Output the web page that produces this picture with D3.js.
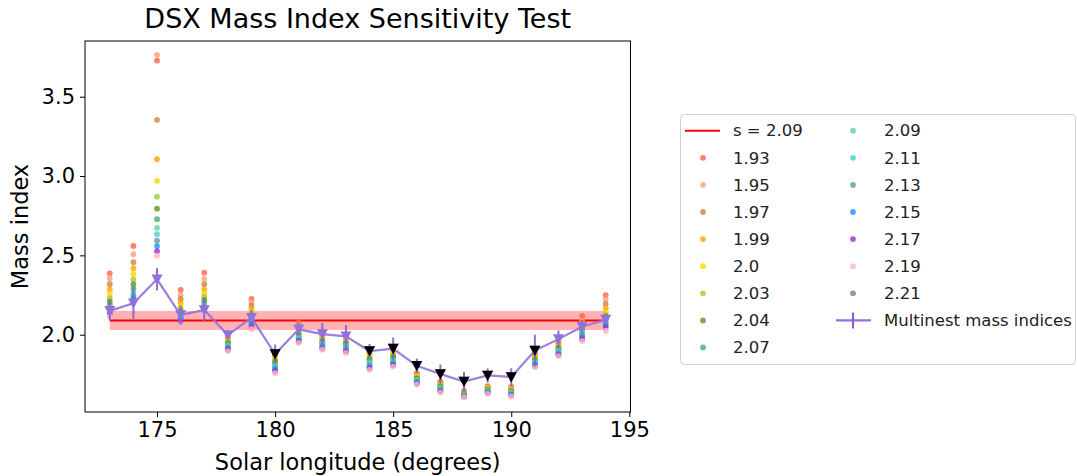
<!DOCTYPE html>
<html><head><meta charset="utf-8">
<script src="https://cdn.jsdelivr.net/npm/d3@7"></script>
<style>body{margin:0;background:#fff;}svg{display:block;font-family:"DejaVu Sans",sans-serif;}</style>
</head><body><svg id="chart" width="1077" height="476"></svg>
<script>
const longitudes = [173,174,175,176,177,178,179,180,181,182,183,184,185,186,187,188,189,190,191,192,193,194];
const sLabels = ["1.93","1.95","1.97","1.99","2.0","2.03","2.04","2.07","2.09","2.11","2.13","2.15","2.17","2.19","2.21"];
const sColors = ["#FF6347","#FFA07A","#CD853F","#FFA500","#FFD700","#9ACD32","#6B8E23","#3CB371","#66CDAA","#48D1CC","#5F9EA0","#1E90FF","#9932CC","#FFB6C1","#708090"];
const s193 = [2.387,2.559,3.728,2.282,2.391,1.985,2.225,1.89,2.078,2.01,2.0,1.905,1.92,1.757,1.705,1.645,1.675,1.672,1.88,1.955,2.118,2.25];
const s195 = [2.353,2.507,3.764,2.250,2.351,1.978,2.204,1.88,2.06,2.0,1.99,1.895,1.91,1.751,1.70,1.642,1.671,1.667,1.873,1.948,2.085,2.223];
const s197 = [2.318,2.457,3.354,2.225,2.318,1.972,2.183,1.87,2.045,1.995,1.98,1.885,1.90,1.746,1.695,1.639,1.668,1.663,1.867,1.941,2.075,2.194];
const s199 = [2.286,2.419,3.106,2.202,2.286,1.966,2.162,1.86,2.03,1.99,1.975,1.875,1.89,1.74,1.69,1.636,1.664,1.658,1.86,1.934,2.065,2.166];
const s200 = [2.257,2.383,2.969,2.181,2.261,1.96,2.145,1.85,2.02,1.98,1.965,1.865,1.88,1.735,1.684,1.633,1.66,1.653,1.854,1.927,2.055,2.141];
const s203 = [2.229,2.349,2.870,2.164,2.240,1.953,2.130,1.84,2.01,1.97,1.955,1.855,1.87,1.729,1.679,1.63,1.657,1.649,1.847,1.92,2.045,2.125];
const s204 = [2.208,2.318,2.794,2.149,2.219,1.946,2.118,1.83,2.0,1.96,1.945,1.845,1.86,1.724,1.673,1.627,1.653,1.644,1.841,1.913,2.035,2.115];
const s207 = [2.187,2.290,2.728,2.14,2.202,1.94,2.108,1.82,1.99,1.95,1.935,1.835,1.85,1.718,1.668,1.624,1.65,1.64,1.834,1.906,2.025,2.105];
const s209 = [2.175,2.271,2.673,2.13,2.187,1.933,2.10,1.81,1.985,1.945,1.93,1.825,1.84,1.713,1.663,1.621,1.646,1.635,1.828,1.899,2.015,2.095];
const s211 = [2.165,2.255,2.633,2.12,2.18,1.927,2.09,1.80,1.978,1.94,1.92,1.815,1.83,1.707,1.657,1.618,1.642,1.63,1.821,1.892,2.005,2.085];
const s213 = [2.155,2.24,2.593,2.11,2.17,1.92,2.08,1.79,1.97,1.93,1.91,1.805,1.822,1.702,1.652,1.615,1.639,1.626,1.815,1.885,1.995,2.07];
const s215 = [2.145,2.225,2.559,2.10,2.16,1.913,2.07,1.78,1.963,1.92,1.90,1.797,1.815,1.697,1.647,1.612,1.635,1.621,1.808,1.878,1.985,2.06];
const s217 = [2.13,2.21,2.526,2.08,2.15,1.905,2.05,1.77,1.956,1.912,1.893,1.788,1.807,1.691,1.642,1.61,1.632,1.617,1.802,1.871,1.972,2.045];
const s219 = [2.115,2.20,2.498,2.065,2.14,1.897,2.035,1.758,1.948,1.905,1.885,1.778,1.799,1.686,1.637,1.607,1.628,1.612,1.795,1.865,1.96,2.025];
const s221 = [null,null,null,null,null,null,null,null,null,null,null,null,null,null,null,null,null,null,null,null,null,null];
const multinest = [2.15,2.198,2.349,2.124,2.156,1.998,2.107,1.878,2.034,2.004,1.99,1.897,1.912,1.804,1.752,1.705,1.743,1.733,1.90,1.972,2.05,2.095];
const multinestErr = [0.06,0.1,0.07,0.06,0.07,0.03,0.05,0.06,0.04,0.07,0.07,0.045,0.07,0.045,0.06,0.06,0.045,0.055,0.1,0.055,0.04,0.035];
const flagged = [180,184,185,186,187,188,189,190,191];
const refS = 2.09;
const refBand = [2.03, 2.15];
const xTicks = [175,180,185,190,195];
const yTicks = [2.0,2.5,3.0,3.5];

const series = [s193,s195,s197,s199,s200,s203,s204,s207,s209,s211,s213,s215,s217,s219,s221];

const svg = d3.select("#chart");
const L = 85, R = 630.5, T = 41, B = 412;
const x = d3.scaleLinear().domain([171.95,195.05]).range([L,R]);
const y = d3.scaleLinear().domain([1.5128,3.851]).range([B,T]);

// band and reference line
const x0 = d3.min(longitudes), x1 = d3.max(longitudes);
svg.append("rect").attr("x",x(x0)).attr("width",x(x1)-x(x0))
  .attr("y",y(refBand[1])).attr("height",y(refBand[0])-y(refBand[1]))
  .attr("fill","#ff0000").attr("fill-opacity",0.3);
svg.append("line").attr("x1",x(x0)).attr("x2",x(x1)).attr("y1",y(refS)).attr("y2",y(refS))
  .attr("stroke","#ff0000").attr("stroke-width",2);

// scatter
series.forEach((arr,i)=>{
  svg.append("g").selectAll("circle").data(arr.map((v,j)=>({v, lon: longitudes[j]})).filter(d=>d.v!=null))
    .join("circle").attr("cx",d=>x(d.lon)).attr("cy",d=>y(d.v)).attr("r",2.9)
    .attr("fill",sColors[i]).attr("fill-opacity",0.8);
});

// multinest
const mData = longitudes.map((lon,i)=>({lon, v: multinest[i], e: multinestErr[i]}));
svg.append("g").selectAll("line").data(mData).join("line")
  .attr("x1",d=>x(d.lon)).attr("x2",d=>x(d.lon)).attr("y1",d=>y(d.v-d.e)).attr("y2",d=>y(d.v+d.e))
  .attr("stroke","#8060cc").attr("stroke-width",2).attr("stroke-opacity",0.9);
svg.append("path").datum(mData)
  .attr("d",d3.line().x(d=>x(d.lon)).y(d=>y(d.v)))
  .attr("fill","none").attr("stroke","#9370DB").attr("stroke-width",2.2).attr("stroke-opacity",0.9);
const tri = "M-5.5,-4.8L5.5,-4.8L0,5.5Z";
svg.append("g").selectAll("path").data(mData).join("path")
  .attr("transform",d=>`translate(${x(d.lon)},${y(d.v)})`).attr("d",tri).attr("fill","#9370DB");
svg.append("g").selectAll("path").data(mData.filter(d=>flagged.includes(d.lon))).join("path")
  .attr("transform",d=>`translate(${x(d.lon)},${y(d.v)})`).attr("d",tri).attr("fill","#000");

// frame
svg.append("rect").attr("x",L).attr("y",T).attr("width",R-L).attr("height",B-T)
  .attr("fill","none").attr("stroke","#000").attr("stroke-width",1);

// axes
const xAxis = svg.append("g").attr("transform",`translate(0,${B})`)
  .call(d3.axisBottom(x).tickValues(xTicks).tickSize(5).tickPadding(5).tickFormat(d3.format("d")));
const yAxis = svg.append("g").attr("transform",`translate(${L},0)`)
  .call(d3.axisLeft(y).tickValues(yTicks).tickSize(5).tickPadding(5).tickFormat(d3.format(".1f")));
[xAxis,yAxis].forEach(a=>{
  a.select(".domain").remove();
  a.selectAll("text").attr("font-size",21).attr("fill","#000").attr("font-family","DejaVu Sans");
  a.selectAll("line").attr("stroke","#000");
});

svg.append("text").attr("x",(L+R)/2).attr("y",28).attr("text-anchor","middle")
  .attr("font-size",27).text("DSX Mass Index Sensitivity Test");
svg.append("text").attr("x",(L+R)/2).attr("y",470).attr("text-anchor","middle")
  .attr("font-size",22.5).text("Solar longitude (degrees)");
svg.append("text").attr("transform",`translate(28,${(T+B)/2}) rotate(-90)`).attr("text-anchor","middle")
  .attr("font-size",22.5).text("Mass index");

// legend
const lg = svg.append("g");
lg.append("rect").attr("x",680.5).attr("y",114.5).attr("width",395).attr("height",250).attr("rx",4)
  .attr("fill","#fff").attr("stroke","#d0d0d0");
const rowY = i => 130.7 + i*27.1;
const entries = [{type:"line",label:"s = " + refS}].concat(sLabels.map((l,i)=>({type:"dot",label:l,color:sColors[i]}))).concat([{type:"err",label:"Multinest mass indices"}]);
entries.forEach((e,k)=>{
  const col = k < 9 ? 0 : 1;
  const row = k < 9 ? k : k-9;
  const cy = rowY(row);
  const mx = col===0 ? 703 : 853;
  const tx = col===0 ? 733 : 884;
  if(e.type==="line"){
    lg.append("line").attr("x1",685).attr("x2",720).attr("y1",cy).attr("y2",cy).attr("stroke","#ff0000").attr("stroke-width",2);
  } else if(e.type==="dot"){
    lg.append("circle").attr("cx",mx).attr("cy",cy).attr("r",2.9).attr("fill",e.color).attr("fill-opacity",0.8);
  } else {
    lg.append("line").attr("x1",836).attr("x2",871).attr("y1",cy).attr("y2",cy).attr("stroke","#9370DB").attr("stroke-width",2.2);
    lg.append("line").attr("x1",853).attr("x2",853).attr("y1",cy-8).attr("y2",cy+8).attr("stroke","#8060cc").attr("stroke-width",2);
  }
  lg.append("text").attr("x",tx).attr("y",cy).attr("dy","0.35em").attr("font-size",16.5).attr("fill","#222").text(e.label);
});
</script></body></html>
